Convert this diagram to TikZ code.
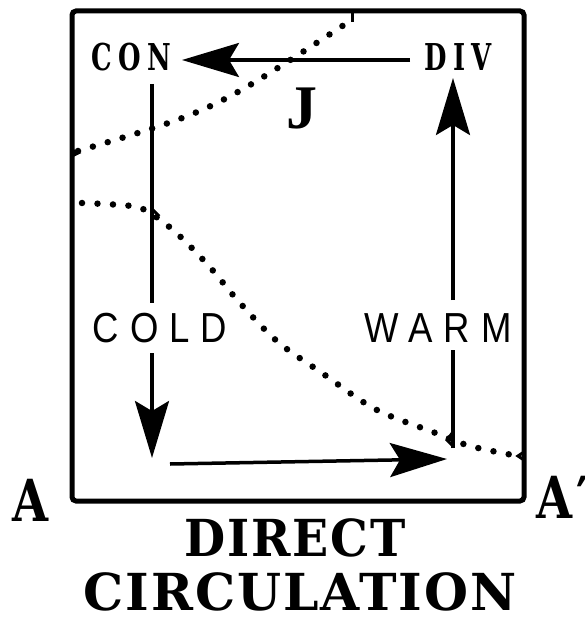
\documentclass[tikz,border=0pt]{standalone}
\usepackage{fontspec}
\setmainfont{DejaVu Serif}
\newfontfamily\titfont[LetterSpace=4]{DejaVu Serif}
\newfontfamily\labfont[LetterSpace=25]{DejaVu Serif}
\newfontfamily\sanslab[LetterSpace=30]{Liberation Sans}
\newfontfamily\jfont{Liberation Serif}
\usetikzlibrary{arrows.meta}
\begin{document}
\begin{tikzpicture}[x=1pt,y=-1pt,
  frame/.style={line width=5pt, rounded corners=4pt},
  flow/.style={line width=3.5pt},
  flowarrow/.style={flow, -{Stealth[length=57pt,width=34pt,inset=10pt]}},
  dots/.style={line width=6.5pt, line cap=round, dash pattern=on 0pt off 15.5pt},
  spur/.style={line width=3pt},
  conlab/.style={inner sep=0pt, font=\labfont\bfseries\fontsize{37}{40}\selectfont},
  sanslabel/.style={inner sep=0pt, font=\sanslab\fontsize{42}{44}\selectfont},
  jlab/.style={inner sep=0pt, font=\jfont\bfseries\fontsize{62}{64}\selectfont},
  titlelab/.style={inner sep=0pt, font=\titfont\bfseries\fontsize{51}{56}\selectfont},
  alab/.style={inner sep=0pt, font=\titfont\bfseries\fontsize{58}{62}\selectfont}]
\useasboundingbox (0,0) rectangle (585,620);
% frame
\draw[frame] (72,11) rectangle (524,501);
% labels
\node[conlab] (con) at (131,57) {\scalebox{0.7}[1]{CON}};
\node[conlab] (div) at (458,57) {\scalebox{0.7}[1]{DIV}};
\node[jlab] (J) at (302,109) {J};
\node[sanslabel] (cold) at (160,328) {\scalebox{0.87}[1]{COLD}};
\node[sanslabel] (warm) at (438,328) {\scalebox{0.87}[1]{WARM}};
\node[titlelab] (direct) at (295,538) {\scalebox{0.93}[1]{DIRECT}};
\node[titlelab] (circ) at (300,592) {\scalebox{0.99}[1]{CIRCULATION}};
\node[alab] (A) at (31,500) {\scalebox{0.8}[1]{A}};
\node[alab, anchor=west] (A2) at (536,497) {\scalebox{0.8}[1]{A\kern5pt′}};
% flow coordinates
\coordinate (divW) at (410,60);
\coordinate (conE) at (182,60);
\coordinate (l1) at (152,84);
\coordinate (l2) at (152,303);
\coordinate (l3) at (152,353);
\coordinate (l4) at (152,458);
\coordinate (b1) at (170,464);
\coordinate (b2) at (447,459);
\coordinate (r1) at (453,448);
\coordinate (r2) at (453,350);
\coordinate (r3) at (453,300);
\coordinate (r4) at (453,78);
\draw[flowarrow] (divW) -- (conE);
\draw[flow] (l1) -- (l2);
\draw[flowarrow] (l3) -- (l4);
\draw[flowarrow] (b1) -- (b2);
\draw[flow] (r1) -- (r2);
\draw[flowarrow] (r3) -- (r4);
% dotted lines
\coordinate (d1s) at (78,151);
\coordinate (d1e) at (350,21);
\draw[dots] (d1s) .. controls (213,111) .. (d1e);
\draw[dots] plot[smooth, tension=0.55] coordinates {(82,203) (120,205) (143,209) (173,230) (208,265) (240,303) (278,342) (322,373) (375,409) (433,432) (470,446) (518,456)};
% spurs where dotted lines meet lines
\draw[spur] (352,12) -- (352,22);
\draw[spur] (72,150) -- (78,153) -- (72,156);
\draw[spur] (152,209) -- (158,215) -- (152,219);
\draw[spur] (453,432) -- (447,440) -- (453,446);
\draw[spur] (524,452) -- (518,456) -- (524,460);
\end{tikzpicture}
\end{document}
